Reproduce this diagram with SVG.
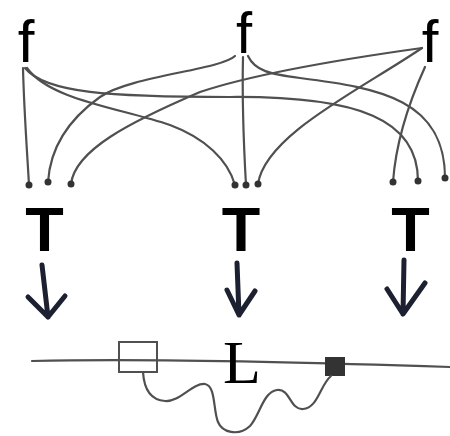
<svg xmlns="http://www.w3.org/2000/svg" width="450" height="436" viewBox="0 0 450 436">
<style>
.f{font-family:"Liberation Sans",Arial,sans-serif;font-size:60px;fill:#000;text-anchor:middle}
.t{font-family:"Liberation Sans",Arial,sans-serif;font-size:63px;font-weight:bold;fill:#000;text-anchor:middle}
.l{font-family:"Liberation Serif","Times New Roman",serif;font-size:62px;fill:#000}
.c{fill:none;stroke:#505050;stroke-width:2.2;stroke-linecap:round}
.d{fill:#333}
.a{fill:none;stroke:#1c2030;stroke-width:5;stroke-linecap:round;stroke-linejoin:round}
</style>
<rect width="450" height="436" fill="#fff"/>
<g id="f-left"><text class="f" x="26" y="62">f</text></g>
<g id="f-mid"><text class="f" x="244" y="53" style="font-size:58px">f</text></g>
<g id="f-right"><text class="f" x="430" y="62">f</text></g>
<g id="connectors">
<path class="c" d="M23,68 C24,110 27,150 29,185"/>
<path class="c" d="M25,68 C45,93 110,97 230,97 C360,96 418,120 418,181"/>
<path class="c" d="M27,68 C50,100 120,108 170,125 C205,138 228,160 235,185"/>
<path class="c" d="M235,56 C220,70 130,76 100,97 C65,122 50,150 48,182"/>
<path class="c" d="M243,57 C242,100 244,150 246,185"/>
<path class="c" d="M248,56 C255,71 270,74 300,78 C380,88 445,100 445,178"/>
<path class="c" d="M422,48 C350,58 260,72 200,92 C130,122 75,150 71,184"/>
<path class="c" d="M422,48 C360,90 265,135 258,184"/>
<path class="c" d="M425,67 C410,100 396,140 393,182"/>
</g>
<g id="dots">
<circle class="d" cx="29" cy="185" r="3.5"/>
<circle class="d" cx="48" cy="182" r="3.5"/>
<circle class="d" cx="71" cy="184" r="3.5"/>
<circle class="d" cx="235" cy="185" r="3.5"/>
<circle class="d" cx="246" cy="185" r="3.5"/>
<circle class="d" cx="258" cy="184" r="3.5"/>
<circle class="d" cx="393" cy="182" r="3.5"/>
<circle class="d" cx="418" cy="181" r="3.5"/>
<circle class="d" cx="445" cy="178" r="3.5"/>
</g>
<g id="T-left"><text class="t" x="44.5" y="251">T</text></g>
<g id="T-mid"><text class="t" x="241" y="251">T</text></g>
<g id="T-right"><text class="t" x="410.5" y="251">T</text></g>
<g id="arrows">
<path class="a" d="M42,265 L48,317 M28,297 L48,317 L65,296"/>
<path class="a" d="M237,263 L239,315 M227,290 L239,315 L255,291"/>
<path class="a" d="M404,260 L403,314 M387,289 L403,314 L425,283"/>
</g>
<g id="L">
<path class="c" d="M32,361 C150,358 300,362 450,367"/>
<rect x="119" y="342" width="38" height="30" fill="none" stroke="#505050" stroke-width="2"/>
<rect x="325" y="357" width="20" height="19" fill="#333"/>
<path class="c" d="M143,372 C144,388 150,400 165,401 C180,402 192,383 205,384 C216,386 213,410 218,422 C222,432 238,437 250,426 C260,415 263,392 277,390 C290,388 290,410 303,409 C318,408 320,385 331,376"/>
<text class="l" x="223" y="383">L</text>
</g>
</svg>
